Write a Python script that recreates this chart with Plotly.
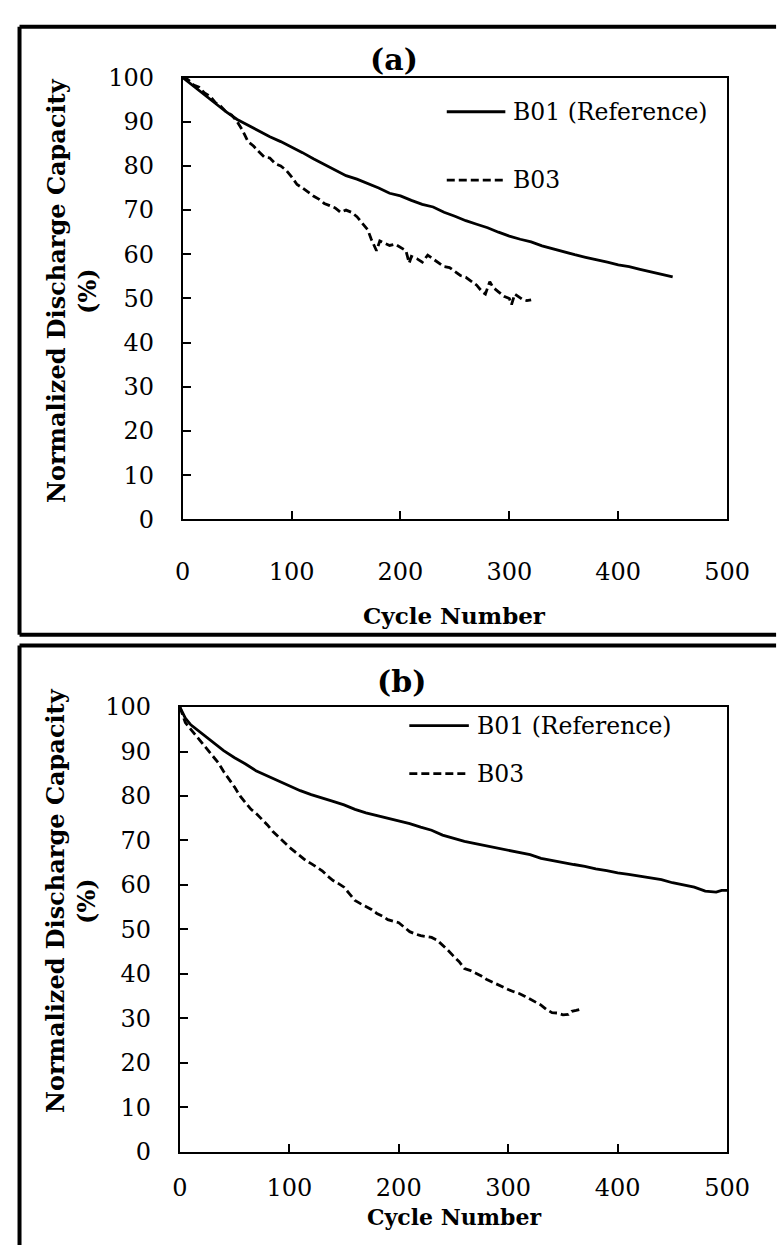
import plotly.graph_objects as go

W, H = 777, 1245

# ---- Panel (a) data: cycle number vs normalized discharge capacity (%) ----
a_b01_cycle = [0, 10, 20, 30, 40, 50, 60, 70, 80, 90, 100, 110, 120, 130, 140, 150,
               160, 170, 180, 190, 200, 210, 220, 230, 240, 250, 260, 270, 280, 290,
               300, 310, 320, 330, 340, 350, 360, 370, 380, 390, 400, 410, 420, 430,
               440, 450]
a_b01_cap = [100, 98, 96, 94.2, 92.2, 90.5, 89.2, 87.8, 86.6, 85.5, 84.3, 83, 81.6,
             80.3, 79, 77.8, 77, 76, 75, 73.8, 73.2, 72.2, 71.3, 70.7, 69.5, 68.6,
             67.6, 66.8, 66, 65, 64.1, 63.4, 62.8, 61.9, 61.2, 60.6, 59.9, 59.3, 58.8,
             58.2, 57.6, 57.2, 56.6, 56.0, 55.4, 54.9]

a_b03_cycle = [0, 5, 10, 15, 20, 25, 30, 35, 40, 45, 50, 55, 60, 65, 70, 75, 80, 85,
               90, 95, 100, 105, 110, 115, 120, 125, 130, 135, 140, 145, 150, 155, 160,
               165, 170, 173, 176, 178, 181, 185, 190, 195, 200, 205, 208, 210, 215,
               220, 225, 230, 235, 240, 245, 250, 255, 260, 265, 270, 275, 278, 282,
               285, 290, 295, 300, 302, 305, 308, 312, 316, 320]
a_b03_cap = [100, 99.5, 98.3, 97.8, 96.5, 95.8, 94.3, 93.5, 92.2, 91.5, 90, 88, 85.5,
             84.5, 83.2, 82, 81.8, 80.5, 80, 79, 77.5, 75.8, 75, 74, 73.2, 72.5, 71.5,
             71, 70.5, 69.5, 70, 69.5, 68.5, 67, 65.5, 63.5, 62, 60.8, 63, 62.5, 62,
             62.3, 61.5, 60.8, 58, 59.5, 59, 58.2, 59.8, 59, 58, 57.2, 57, 56, 55.2,
             54.8, 54, 53, 51.5, 51, 53.8, 52.5, 51.5, 50.5, 50, 48.6, 51, 50.5, 49.8,
             49.5, 49.7]

# ---- Panel (b) data ----
b_b01_cycle = [0, 5, 10, 20, 30, 40, 50, 60, 70, 80, 90, 100, 110, 120, 130, 140, 150,
               160, 170, 180, 190, 200, 210, 220, 230, 240, 250, 260, 270, 280, 290,
               300, 310, 320, 330, 340, 350, 360, 370, 380, 390, 400, 410, 420, 430,
               440, 450, 460, 470, 480, 490, 495, 500]
b_b01_cap = [100, 97.5, 96, 94, 92, 90.2, 88.6, 87.2, 85.6, 84.5, 83.4, 82.4, 81.2,
             80.3, 79.6, 78.8, 78, 77, 76.2, 75.6, 74.9, 74.4, 73.8, 73, 72.3, 71.2,
             70.5, 69.8, 69.3, 68.8, 68.2, 67.8, 67.2, 66.8, 66, 65.5, 65.0, 64.6,
             64.2, 63.6, 63.2, 62.7, 62.4, 62, 61.7, 61.2, 60.5, 60, 59.5, 58.6, 58.4,
             58.8, 58.8]

b_b03_cycle = [0, 5, 10, 15, 20, 25, 30, 35, 40, 45, 50, 55, 60, 65, 70, 75, 80, 85,
               90, 95, 100, 105, 110, 115, 120, 125, 130, 135, 140, 145, 150, 155, 160,
               165, 170, 175, 180, 185, 190, 195, 200, 205, 210, 215, 220, 225, 230,
               235, 240, 245, 250, 255, 260, 265, 270, 275, 280, 285, 290, 295, 300,
               305, 310, 315, 320, 325, 330, 335, 340, 345, 350, 355, 358, 362, 365]
b_b03_cap = [100, 96.5, 95, 93.5, 92, 90.5, 89, 87.5, 85.5, 83.8, 82, 80, 78.5, 77, 76,
             74.8, 73.5, 72, 70.8, 69.5, 68.5, 67.5, 66.5, 65.5, 64.8, 64, 63.2, 62,
             61, 60.3, 59.5, 58, 56.5, 55.8, 55.2, 54.5, 53.6, 53, 52.2, 51.8, 51.5,
             50.5, 49.5, 49, 48.6, 48.4, 48.2, 47.6, 46.5, 45.3, 44, 42.8, 41.2, 40.8,
             40.2, 39.6, 38.8, 38.2, 37.6, 37, 36.5, 36, 35.6, 35, 34.3, 33.6, 33,
             32, 31.3, 31.2, 30.8, 30.9, 31.6, 31.8, 32]

x_ticks = [0, 100, 200, 300, 400, 500]
y_ticks = [0, 10, 20, 30, 40, 50, 60, 70, 80, 90, 100]

series_names = ["B01 (Reference)", "B03"]
panel_titles = ["(a)", "(b)"]
x_title = "Cycle Number"
y_title = "Normalized Discharge Capacity<br>(%)"

FONT = "DejaVu Serif"
TICK_FS = 24
LEG_FS = 23.5
TITLE_FS = 23


def px(x):
    return x / W


def py(y):
    return 1 - y / H


fig = go.Figure()

solid = dict(color="black", width=2.8)
dashed = dict(color="black", width=2.8, dash="8px,4px")

fig.add_trace(go.Scatter(x=a_b01_cycle, y=a_b01_cap, mode="lines", line=solid,
                         name=series_names[0], xaxis="x", yaxis="y"))
fig.add_trace(go.Scatter(x=a_b03_cycle, y=a_b03_cap, mode="lines", line=dashed,
                         name=series_names[1], xaxis="x", yaxis="y"))
fig.add_trace(go.Scatter(x=b_b01_cycle, y=b_b01_cap, mode="lines", line=solid,
                         name=series_names[0], xaxis="x2", yaxis="y2"))
fig.add_trace(go.Scatter(x=b_b03_cycle, y=b_b03_cap, mode="lines", line=dashed,
                         name=series_names[1], xaxis="x2", yaxis="y2"))

axis_common = dict(
    showline=True, linewidth=2, linecolor="black", mirror=True,
    ticks="inside", ticklen=8, tickwidth=2, tickcolor="black",
    showgrid=False, zeroline=False,
    tickfont=dict(family=FONT, size=TICK_FS, color="black"),
)

# plot-area pixel boxes: (left, right, top, bottom)
box_a = (182, 749, 65, 517)
box_b = (179, 749, 709, 1164)

fig.update_layout(
    width=W, height=H,
    margin=dict(l=0, r=0, t=0, b=0),
    paper_bgcolor="white", plot_bgcolor="white",
    showlegend=False,
    xaxis=dict(domain=[px(box_a[0]), px(box_a[1])], range=[0, 500], tickvals=x_ticks,
               anchor="y", ticklabelstandoff=30, **axis_common),
    yaxis=dict(domain=[py(box_a[3]), py(box_a[2])], range=[0, 100], tickvals=y_ticks,
               anchor="x", ticklabelstandoff=22, **axis_common),
    xaxis2=dict(domain=[px(box_b[0]), px(box_b[1])], range=[0, 500], tickvals=x_ticks,
                anchor="y2", ticklabelstandoff=13, **axis_common),
    yaxis2=dict(domain=[py(box_b[3]), py(box_b[2])], range=[0, 100], tickvals=y_ticks,
                anchor="x2", ticklabelstandoff=22, **axis_common),
)

shapes = []
annotations = []

# outer frames around each panel (right and lower edges run past the page)
frame = dict(color="black", width=4)
for (x0, y0, x1, y1) in [(12, 13, 800, 635), (12, 646, 800, 1300)]:
    shapes.append(dict(type="line", xref="paper", yref="paper", x0=px(x0), x1=px(x1),
                       y0=py(y0), y1=py(y0), line=frame))
    shapes.append(dict(type="line", xref="paper", yref="paper", x0=px(x0), x1=px(x0),
                       y0=py(y0), y1=py(y1), line=frame))
    shapes.append(dict(type="line", xref="paper", yref="paper", x0=px(x0), x1=px(x1),
                       y0=py(y1), y1=py(y1), line=frame))

# hand-placed legend keys (line sample + label) for each panel
legend_rows = [
    # (line x0, line x1, text x, y, dash, label)
    (457, 518, 524, 100, None, series_names[0]),
    (457, 518, 524, 170, "8px,4px", series_names[1]),
    (418, 480, 486, 728, None, series_names[0]),
    (418, 480, 486, 777, "8px,4px", series_names[1]),
]
for lx0, lx1, tx, ly, dash, label in legend_rows:
    ln = dict(color="black", width=2.8)
    if dash:
        ln["dash"] = dash
    shapes.append(dict(type="line", xref="paper", yref="paper",
                       x0=px(lx0), x1=px(lx1), y0=py(ly), y1=py(ly), line=ln))
    annotations.append(dict(xref="paper", yref="paper", x=px(tx), y=py(ly),
                            xanchor="left", yanchor="middle", showarrow=False,
                            text=label, font=dict(family=FONT, size=LEG_FS, color="black")))

# panel titles, axis titles
text_items = [
    (402, 47, "<b>" + panel_titles[0] + "</b>", 30, 0),
    (410, 683, "<b>" + panel_titles[1] + "</b>", 30, 0),
    (465, 615, "<b>" + x_title + "</b>", TITLE_FS, 0),
    (465, 1231, "<b>" + x_title + "</b>", 22, 0),
    (66, 283, "<b>" + y_title + "</b>", 24, -90),
    (65, 907, "<b>" + y_title + "</b>", 24, -90),
]
for tx, ty, txt, size, ang in text_items:
    annotations.append(dict(xref="paper", yref="paper", x=px(tx), y=py(ty),
                            xanchor="center", yanchor="middle", showarrow=False,
                            text=txt, textangle=ang,
                            font=dict(family=FONT, size=size, color="black")))

fig.update_layout(shapes=shapes, annotations=annotations)

fig.write_html("out.html")
